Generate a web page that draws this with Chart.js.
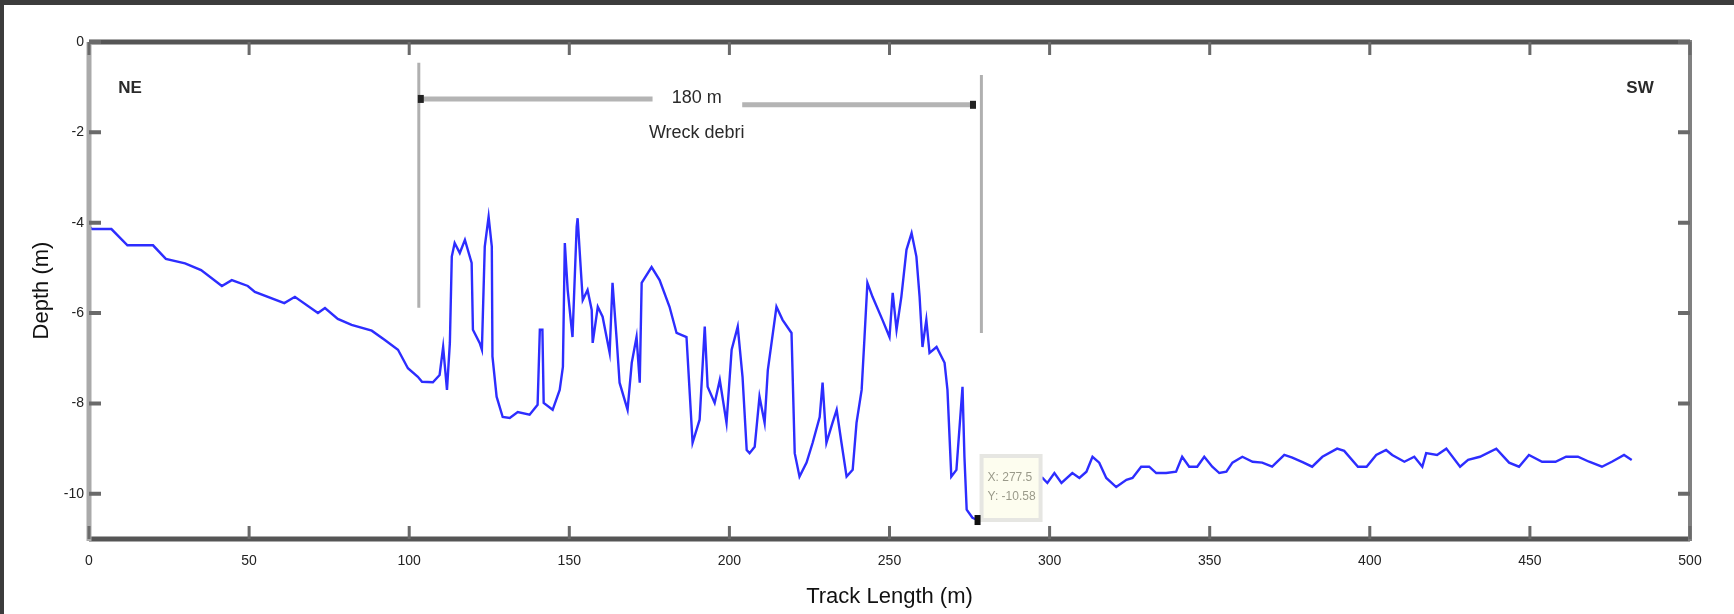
<!DOCTYPE html>
<html>
<head>
<meta charset="utf-8">
<script src="https://cdn.jsdelivr.net/npm/chart.js@4.4.1/dist/chart.umd.min.js"></script>
<style>
  html, body { margin: 0; padding: 0; background: #fff; }
  #wrap { position: relative; width: 1734px; height: 614px; overflow: hidden; }
  #edgeTop { position: absolute; left: 0; top: 0; width: 1734px; height: 5px; background: #3c3c3c; }
  #edgeLeft { position: absolute; left: 0; top: 0; width: 4px; height: 614px; background: #3c3c3c; }
</style>
</head>
<body>
<div id="wrap">
  <canvas id="myChart" width="1734" height="614" style="width:1734px;height:614px"></canvas>
  <div id="edgeTop"></div>
  <div id="edgeLeft"></div>
</div>
<script>
// track position along the profile (m)
const trackX = [
  0, 1, 7, 12, 20, 24, 30, 35, 41.5, 44.6, 49.6, 51.8, 61, 64.3, 71.5, 73.7, 77.7, 82, 88.3, 92.5,
  96.5, 99.6, 102.7, 104, 107.4, 109.5, 110.6, 111.8, 112.7, 113.3, 114.2, 115.8, 117.4, 119.5, 119.9, 122,
  122.7, 123.6, 124.8, 125.8, 126, 127.3, 129.2, 131.4, 133.9, 137.6, 140.1, 140.8, 141.6, 142, 144.8, 147,
  148, 148.6, 149.5, 151, 152.3, 152.6, 153.6, 154.2, 155.7, 157, 157.3, 158.9, 160.4, 162.6, 163.5, 164.8,
  165.7, 168.2, 169.5, 171, 172, 172.6, 175.7, 178.2, 181.3, 183.5, 186.6, 188.5, 190.7, 192.3, 193.2, 195.4,
  197, 199.1, 200.7, 202.6, 204.1, 205.4, 206.3, 207.9, 209.4, 211, 212, 214.7, 216.6, 219.4, 220.4, 221.9,
  224.1, 226, 228.2, 229.1, 230.3, 232.2, 233.5, 235, 236.6, 238.5, 239.7, 241.3, 242.2, 243.1, 244.7, 247.8,
  250, 251, 252.2, 253.7, 255.3, 256.9, 258.4, 259.4, 260.3, 261.5, 262.5, 264.7, 267.2, 268.1, 269.3, 270.9,
  272.8, 273.4, 274.1, 275.9, 277.5, 279.5, 288, 297.8, 299.3, 301.5, 303.7, 307.1, 309.3, 311.5, 313.4, 315.5,
  317.7, 320.8, 324, 325.9, 328.6, 331.1, 333.3, 336.4, 339.5, 341.4, 343.6, 346.1, 348.3, 350.8, 353, 355.2,
  357.1, 360.2, 363.4, 366.4, 369.5, 373.3, 375.8, 379, 382, 385.2, 389.8, 392, 396.3, 399, 402, 405.1,
  407, 410.8, 413.9, 416.4, 417.6, 421, 423.9, 428.2, 430.7, 434.4, 439.5, 443.5, 446.6, 449.7, 453.8, 458,
  461.3, 465, 468.5, 472.5, 475.6, 479.4, 481.8
];
// depth (m)
const depthY = [
  -4.08, -4.14, -4.14, -4.5, -4.5, -4.8, -4.9, -5.05, -5.4, -5.27, -5.4, -5.53, -5.78, -5.64, -6.0, -5.89, -6.13, -6.26, -6.39, -6.6,
  -6.81, -7.22, -7.41, -7.52, -7.53, -7.37, -6.75, -7.7, -6.66, -4.75, -4.45, -4.67, -4.38, -4.89, -6.37, -6.66,
  -6.81, -4.53, -3.87, -4.53, -6.96, -7.85, -8.3, -8.32, -8.19, -8.25, -8.03, -6.37, -6.37, -7.99, -8.14, -7.7,
  -7.19, -4.45, -5.49, -6.53, -4.09, -3.9, -5.04, -5.71, -5.49, -5.93, -6.66, -5.86, -6.08, -6.88, -5.33, -6.59,
  -7.54, -8.14, -7.1, -6.53, -7.54, -5.33, -4.98, -5.27, -5.86, -6.44, -6.53, -8.87, -8.36, -6.3, -7.63, -7.99,
  -7.48, -8.43, -6.81, -6.3, -7.41, -9.03, -9.1, -8.96, -7.85, -8.43, -7.26, -5.86, -6.15, -6.44, -9.1, -9.62,
  -9.31, -8.87, -8.3, -7.54, -8.87, -8.43, -8.14, -8.87, -9.62, -9.47, -8.43, -7.7, -6.53, -5.33, -5.64, -6.15,
  -6.53, -5.55, -6.37, -5.64, -4.6, -4.23, -4.75, -5.64, -6.75, -6.15, -6.88, -6.75, -7.1, -7.7, -9.62, -9.47,
  -7.63, -9.18, -10.35, -10.53, -10.58, -10.5, -9.9, -9.65, -9.76, -9.54, -9.76, -9.54, -9.65, -9.51, -9.18, -9.31,
  -9.65, -9.85, -9.69, -9.65, -9.4, -9.4, -9.54, -9.54, -9.51, -9.18, -9.4, -9.4, -9.18, -9.4, -9.54, -9.51,
  -9.31, -9.18, -9.29, -9.31, -9.4, -9.14, -9.2, -9.3, -9.4, -9.18, -9.0, -9.05, -9.4, -9.4, -9.14, -9.03,
  -9.14, -9.29, -9.18, -9.4, -9.1, -9.14, -9.0, -9.4, -9.25, -9.18, -9.0, -9.31, -9.4, -9.14, -9.29, -9.29,
  -9.18, -9.18, -9.29, -9.4, -9.29, -9.14, -9.25
];
const xTicks = [0, 50, 100, 150, 200, 250, 300, 350, 400, 450, 500];
const yTicks = [0, -2, -4, -6, -8, -10];

// wreck debris span marked on the plot (data units)
const spanStart = 103;
const spanEnd = 278.7;
const spanLabel = '180 m';
const spanNote = 'Wreck debri';
// data cursor on the deepest point
const tipX = 277.5;
const tipY = -10.58;

let points = [];
for (let i = 0; i < trackX.length; i++) {
  points.push({x: trackX[i], y: depthY[i]});
}

const FONT = "'Liberation Sans', Arial, sans-serif";

const frame = {
  id: 'frame',
  afterDraw(chart) {
    const ctx = chart.ctx;
    const xs = chart.scales.x, ys = chart.scales.y;
    const a = chart.chartArea;
    ctx.save();

    // annotations: vertical markers and the span arrow
    ctx.strokeStyle = '#b0b0b0';
    ctx.lineWidth = 3;
    ctx.beginPath();
    ctx.moveTo(xs.getPixelForValue(spanStart), ys.getPixelForValue(-0.46));
    ctx.lineTo(xs.getPixelForValue(spanStart), ys.getPixelForValue(-5.88));
    ctx.moveTo(xs.getPixelForValue(spanEnd), ys.getPixelForValue(-0.73));
    ctx.lineTo(xs.getPixelForValue(spanEnd), ys.getPixelForValue(-6.44));
    ctx.stroke();

    ctx.strokeStyle = '#b4b4b4';
    ctx.lineWidth = 5;
    ctx.beginPath();
    ctx.moveTo(xs.getPixelForValue(spanStart + 0.5), ys.getPixelForValue(-1.26));
    ctx.lineTo(xs.getPixelForValue(176), ys.getPixelForValue(-1.26));
    ctx.moveTo(xs.getPixelForValue(204), ys.getPixelForValue(-1.39));
    ctx.lineTo(xs.getPixelForValue(spanEnd - 2), ys.getPixelForValue(-1.39));
    ctx.stroke();
    ctx.fillStyle = '#222';
    ctx.fillRect(xs.getPixelForValue(spanStart) - 1, ys.getPixelForValue(-1.26) - 4, 6, 8);
    ctx.fillRect(xs.getPixelForValue(spanEnd - 2) - 5, ys.getPixelForValue(-1.39) - 4, 6, 8);

    ctx.fillStyle = '#2a2a2a';
    ctx.textAlign = 'center';
    ctx.textBaseline = 'middle';
    ctx.font = '18px ' + FONT;
    ctx.fillText(spanLabel, xs.getPixelForValue(189.8), ys.getPixelForValue(-1.24));
    ctx.fillText(spanNote, xs.getPixelForValue(189.8), ys.getPixelForValue(-2.01));
    ctx.font = 'bold 17px ' + FONT;
    ctx.fillText('NE', xs.getPixelForValue(12.8), ys.getPixelForValue(-1.02));
    ctx.fillText('SW', xs.getPixelForValue(484.4), ys.getPixelForValue(-1.02));

    // data tip box
    const px = xs.getPixelForValue(tipX), py = ys.getPixelForValue(tipY);
    ctx.fillStyle = '#fdfdef';
    ctx.strokeStyle = '#e6e6e2';
    ctx.lineWidth = 4;
    ctx.fillRect(px + 4, py - 64, 59, 64);
    ctx.strokeRect(px + 4, py - 64, 59, 64);
    ctx.fillStyle = '#9a9a8a';
    ctx.font = '12px ' + FONT;
    ctx.textAlign = 'left';
    ctx.fillText('X: ' + tipX, px + 10, py - 42);
    ctx.fillText('Y: ' + tipY, px + 10, py - 23);
    ctx.fillStyle = '#111';
    ctx.fillRect(px - 3, py - 5, 6, 10);

    // axes box
    ctx.strokeStyle = '#555';
    ctx.lineWidth = 5;
    ctx.beginPath();
    ctx.moveTo(a.left, a.top); ctx.lineTo(a.right, a.top);
    ctx.moveTo(a.left, a.bottom); ctx.lineTo(a.right, a.bottom);
    ctx.stroke();
    ctx.strokeStyle = '#aaa';
    ctx.lineWidth = 5;
    ctx.beginPath();
    ctx.moveTo(a.left, a.top); ctx.lineTo(a.left, a.bottom + 2);
    ctx.stroke();
    ctx.strokeStyle = '#808080';
    ctx.lineWidth = 4;
    ctx.beginPath();
    ctx.moveTo(a.right, a.top - 2); ctx.lineTo(a.right, a.bottom + 2);
    ctx.stroke();

    // inward ticks
    ctx.strokeStyle = '#6a6a6a';
    ctx.lineWidth = 3;
    ctx.beginPath();
    xTicks.forEach(v => {
      const x = xs.getPixelForValue(v);
      ctx.moveTo(x, a.bottom); ctx.lineTo(x, a.bottom - 13);
      ctx.moveTo(x, a.top); ctx.lineTo(x, a.top + 13);
    });
    ctx.stroke();
    ctx.lineWidth = 4;
    ctx.beginPath();
    yTicks.forEach(v => {
      const y = ys.getPixelForValue(v);
      ctx.moveTo(a.left, y); ctx.lineTo(a.left + 12, y);
      ctx.moveTo(a.right, y); ctx.lineTo(a.right - 12, y);
    });
    ctx.stroke();
    ctx.restore();
  }
};

const data = {
  datasets: [{
    label: 'Depth',
    data: points,
    borderColor: '#2d2dff',
    borderWidth: 2.4,
    pointRadius: 0,
    tension: 0,
    fill: false
  }]
};

const config = {
  type: 'line',
  data: data,
  options: {
    responsive: false,
    animation: false,
    layout: { padding: { top: 42, right: 44, left: 0, bottom: 0 } },
    plugins: {
      legend: { display: false },
      tooltip: { enabled: false }
    },
    scales: {
      x: {
        type: 'linear',
        min: 0,
        max: 500,
        afterBuildTicks: s => { s.ticks = xTicks.map(v => ({value: v})); },
        afterFit: s => { s.height = 75; },
        grid: { display: false, drawTicks: false },
        border: { display: false },
        ticks: { font: { size: 14, family: FONT }, color: '#222', padding: 14, maxRotation: 0, autoSkip: false },
        title: { display: true, text: 'Track Length (m)', font: { size: 22, family: FONT }, color: '#111', padding: { top: 0, bottom: 4 } }
      },
      y: {
        min: -11,
        max: 0,
        afterBuildTicks: s => { s.ticks = yTicks.map(v => ({value: v})); },
        afterFit: s => { s.width = 89; },
        grid: { display: false, drawTicks: false },
        border: { display: false },
        ticks: { font: { size: 14, family: FONT }, color: '#222', padding: 5 },
        title: { display: true, text: 'Depth (m)', font: { size: 22, family: FONT }, color: '#111', padding: { top: 29, bottom: 0 } }
      }
    }
  },
  plugins: [frame]
};

const myChart = new Chart(document.getElementById('myChart'), config);
</script>
</body>
</html>
